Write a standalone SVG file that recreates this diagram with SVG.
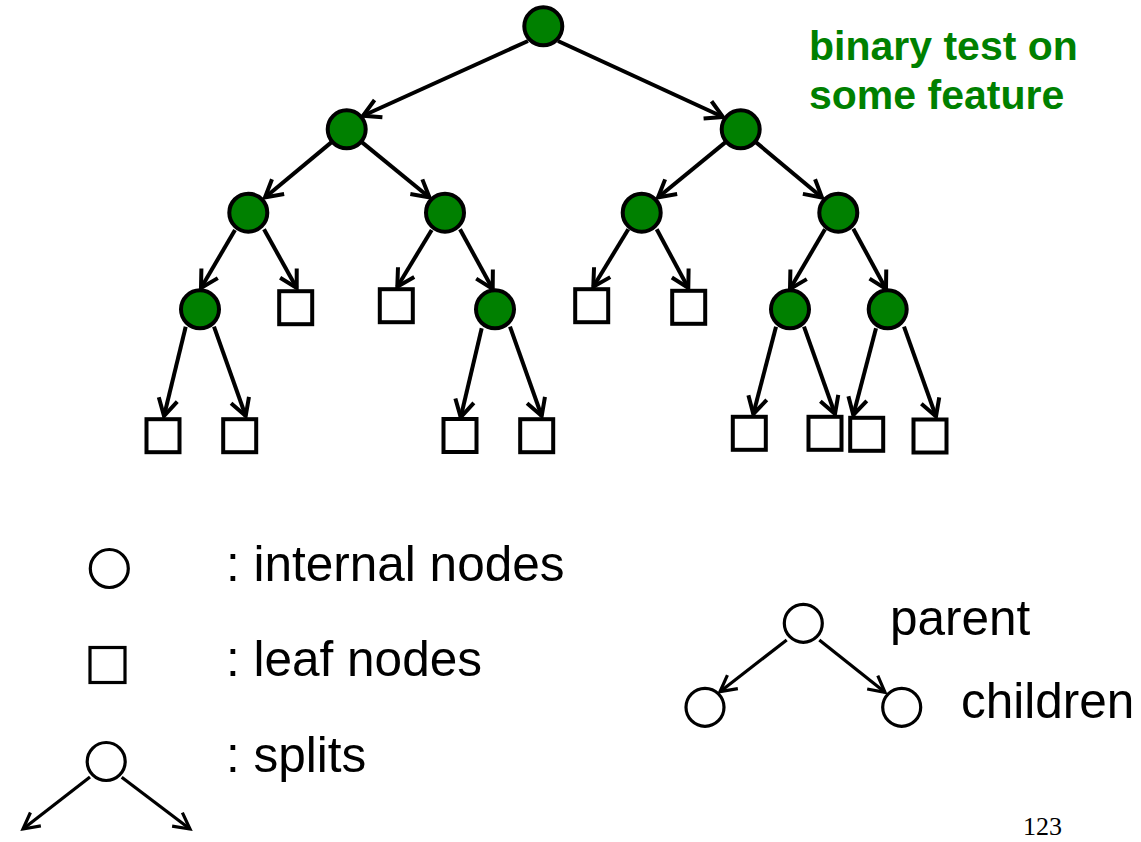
<svg xmlns="http://www.w3.org/2000/svg" width="1141" height="842" viewBox="0 0 1141 842">
<style>
.inode{fill:#008000;stroke:#000;stroke-width:4}
.leaf{fill:#fff;stroke:#000;stroke-width:4}
.edge{stroke:#000;stroke-width:4;fill:none;marker-end:url(#arr)}
.ledge{stroke:#000;stroke-width:3.2;fill:none;marker-end:url(#arrs)}
.lnode{fill:#fff;stroke:#000;stroke-width:3.2}
.lbl{font-family:"Liberation Sans",Arial,sans-serif;font-size:49.5px;fill:#000}
.note{font-family:"Liberation Sans",Arial,sans-serif;font-size:41px;font-weight:bold;fill:#008000}
.pg{font-family:"Liberation Serif","Times New Roman",serif;font-size:26px;fill:#000}
</style>
<defs>
<marker id="arr" markerUnits="userSpaceOnUse" viewBox="-22 -13 26 26" refX="0" refY="0" markerWidth="26" markerHeight="26" orient="auto">
<path d="M-17,-9.5 L0,0 L-17,9.5" fill="none" stroke="#000" stroke-width="4" stroke-linejoin="miter"/>
</marker>
<marker id="arrs" markerUnits="userSpaceOnUse" viewBox="-22 -13 26 26" refX="0" refY="0" markerWidth="26" markerHeight="26" orient="auto">
<path d="M-16,-8.5 L0,0 L-16,8.5" fill="none" stroke="#000" stroke-width="3.2" stroke-linejoin="miter"/>
</marker>
</defs>
<g id="connectors">
<line class="edge" x1="528" y1="41" x2="363" y2="115.7"/>
<line class="edge" x1="558" y1="41" x2="723" y2="117"/>
<line class="edge" x1="332.2" y1="141.6" x2="265" y2="197.5"/>
<line class="edge" x1="361.2" y1="141.6" x2="429.5" y2="197.5"/>
<line class="edge" x1="726.2" y1="141.6" x2="658" y2="197.5"/>
<line class="edge" x1="755.2" y1="141.6" x2="822" y2="197.5"/>
<line class="edge" x1="235" y1="230" x2="201" y2="288"/>
<line class="edge" x1="264" y1="229.3" x2="296.7" y2="288"/>
<line class="edge" x1="431.7" y1="230" x2="397.3" y2="286.7"/>
<line class="edge" x1="460" y1="229.3" x2="492.7" y2="289"/>
<line class="edge" x1="628.3" y1="229.3" x2="593.3" y2="286.7"/>
<line class="edge" x1="656.7" y1="229.3" x2="688.3" y2="288"/>
<line class="edge" x1="825" y1="229.3" x2="790" y2="289"/>
<line class="edge" x1="853.3" y1="228.7" x2="886" y2="289"/>
<line class="edge" x1="185.7" y1="326.7" x2="164" y2="416"/>
<line class="edge" x1="214" y1="326.7" x2="245.7" y2="416"/>
<line class="edge" x1="481.7" y1="328.3" x2="460.7" y2="417.3"/>
<line class="edge" x1="510" y1="326.7" x2="541.7" y2="416"/>
<line class="edge" x1="776" y1="326.7" x2="753.3" y2="414"/>
<line class="edge" x1="804" y1="326.7" x2="835" y2="414"/>
<line class="edge" x1="876" y1="328.3" x2="853.3" y2="415"/>
<line class="edge" x1="904" y1="326.7" x2="936" y2="416.5"/>
</g>
<g id="n_root"><circle class="inode" cx="543.3" cy="26.3" r="19"/></g>
<g id="n_A"><circle class="inode" cx="346.7" cy="129.3" r="19"/></g>
<g id="n_B"><circle class="inode" cx="740.7" cy="129.3" r="19"/></g>
<g id="n_C"><circle class="inode" cx="248.3" cy="212.7" r="19"/></g>
<g id="n_D"><circle class="inode" cx="445" cy="212.7" r="19"/></g>
<g id="n_E"><circle class="inode" cx="641.7" cy="212.7" r="19"/></g>
<g id="n_F"><circle class="inode" cx="838.3" cy="212.7" r="19"/></g>
<g id="n_G"><circle class="inode" cx="200" cy="309.3" r="19"/></g>
<g id="n_H"><circle class="inode" cx="495" cy="309.3" r="19"/></g>
<g id="n_I"><circle class="inode" cx="790" cy="309.3" r="19"/></g>
<g id="n_J"><circle class="inode" cx="887.7" cy="309.3" r="19"/></g>
<g id="l1"><rect class="leaf" x="279.2" y="291.2" width="33" height="33"/></g>
<g id="l2"><rect class="leaf" x="379.8" y="289.2" width="33" height="33"/></g>
<g id="l3"><rect class="leaf" x="575.2" y="289.2" width="33" height="33"/></g>
<g id="l4"><rect class="leaf" x="672.2" y="290.8" width="33" height="33"/></g>
<g id="b1"><rect class="leaf" x="146.5" y="419.2" width="33" height="33"/></g>
<g id="b2"><rect class="leaf" x="223.2" y="419.2" width="33" height="33"/></g>
<g id="b3"><rect class="leaf" x="443.5" y="419" width="33" height="33"/></g>
<g id="b4"><rect class="leaf" x="520.2" y="419.2" width="33" height="33"/></g>
<g id="b5"><rect class="leaf" x="732.8" y="416.8" width="33" height="33"/></g>
<g id="b6"><rect class="leaf" x="808.5" y="416.8" width="33" height="33"/></g>
<g id="b7"><rect class="leaf" x="850.2" y="417.8" width="33" height="33"/></g>
<g id="b8"><rect class="leaf" x="913.5" y="419.5" width="33" height="33"/></g>
<g id="note">
<text class="note" x="809" y="60">binary test on</text>
<text class="note" x="809" y="109">some feature</text>
</g>
<g id="legend_internal">
<circle class="lnode" cx="109.3" cy="568.5" r="19"/>
<text class="lbl" x="226" y="581">: internal nodes</text>
</g>
<g id="legend_leaf">
<rect class="lnode" x="90" y="647.5" width="35" height="35"/>
<text class="lbl" x="226" y="676">: leaf nodes</text>
</g>
<g id="legend_splits">
<circle class="lnode" cx="106.2" cy="761.5" r="19"/>
<line class="ledge" x1="90" y1="777" x2="23" y2="829"/>
<line class="ledge" x1="121.7" y1="777.3" x2="190" y2="829"/>
<text class="lbl" x="226" y="772">: splits</text>
</g>
<g id="pc_parent">
<circle class="lnode" cx="803.3" cy="623.3" r="19"/>
<text class="lbl" x="890" y="635">parent</text>
</g>
<g id="pc_child_left"><circle class="lnode" cx="705" cy="707.3" r="19"/></g>
<g id="pc_child_right"><circle class="lnode" cx="901.7" cy="707.3" r="19"/></g>
<g id="pc_connectors">
<line class="ledge" x1="786.7" y1="640" x2="720" y2="691.7"/>
<line class="ledge" x1="819.3" y1="640" x2="885" y2="692.3"/>
</g>
<text class="lbl" x="961" y="718">children</text>
<text class="pg" x="1023" y="835">123</text>
</svg>
